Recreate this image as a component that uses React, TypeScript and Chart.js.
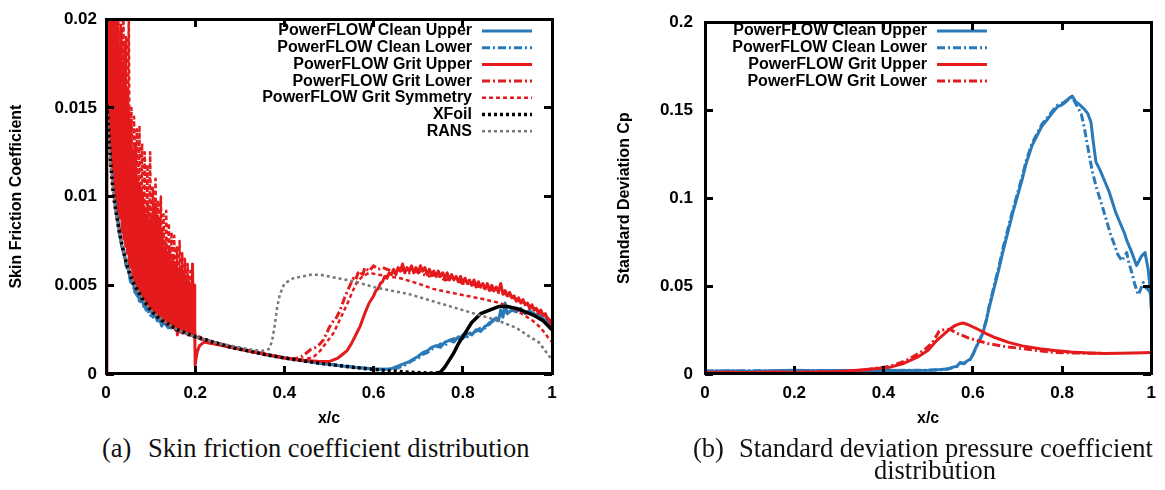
import React, { useEffect, useRef, useState } from 'react';
import { Chart, registerables } from 'chart.js';

Chart.register(...registerables);
Chart.defaults.font.family = '"Liberation Sans", Arial, Helvetica, sans-serif';
Chart.defaults.color = '#000';

type Pt = [number, number];

// ---------- tick labels ----------
const xTickLabels = ['0', '0.2', '0.4', '0.6', '0.8', '1'];
const cfTickLabels = ['0', '0.005', '0.01', '0.015', '0.02'];
const sdTickLabels = ['0', '0.05', '0.1', '0.15', '0.2'];

// ---------- (a) skin friction ----------
const cfLabels = [
  'PowerFLOW Clean Upper',
  'PowerFLOW Clean Lower',
  'PowerFLOW Grit Upper',
  'PowerFLOW Grit Lower',
  'PowerFLOW Grit Symmetry',
  'XFoil',
  'RANS',
];

const cfCleanUpper: Pt[] = [
  [0.001, 0.019], [0.004, 0.0185], [0.006, 0.0175], [0.008, 0.015], [0.01, 0.0165], [0.012, 0.013],
  [0.014, 0.014], [0.016, 0.011], [0.018, 0.0118], [0.02, 0.01], [0.025, 0.009], [0.03, 0.0082],
  [0.035, 0.0072], [0.04, 0.007], [0.045, 0.0062], [0.05, 0.006], [0.055, 0.0052], [0.06, 0.0053],
  [0.065, 0.0046], [0.07, 0.0048], [0.075, 0.0041], [0.08, 0.0044], [0.085, 0.0038], [0.09, 0.004],
  [0.095, 0.0035], [0.1, 0.0037], [0.105, 0.0032], [0.11, 0.0034], [0.115, 0.003], [0.12, 0.0031],
  [0.125, 0.0027], [0.13, 0.003], [0.14, 0.0026], [0.15, 0.0027], [0.16, 0.0024], [0.17, 0.0025],
  [0.18, 0.0023], [0.19, 0.0022], [0.2, 0.0021], [0.24, 0.0018], [0.28, 0.0015], [0.32, 0.0013],
  [0.36, 0.00108], [0.4, 0.0009], [0.44, 0.00075], [0.48, 0.0006], [0.52, 0.00048], [0.56, 0.00036],
  [0.6, 0.00028], [0.62, 0.00025], [0.64, 0.0003], [0.66, 0.0005], [0.68, 0.0007], [0.7, 0.001],
  [0.71, 0.0012], [0.72, 0.0013], [0.73, 0.0015], [0.74, 0.0016], [0.75, 0.0015], [0.76, 0.0018],
  [0.77, 0.0019], [0.78, 0.0018], [0.79, 0.0021], [0.8, 0.002], [0.81, 0.0023], [0.82, 0.0022],
  [0.83, 0.0025], [0.84, 0.0024], [0.85, 0.0027], [0.86, 0.0028], [0.87, 0.0031], [0.88, 0.003],
  [0.885, 0.0036], [0.89, 0.0032], [0.895, 0.004], [0.9, 0.0034], [0.91, 0.0036], [0.92, 0.0035],
  [0.93, 0.0037], [0.94, 0.0034], [0.95, 0.0036], [0.96, 0.0033], [0.97, 0.0034], [0.98, 0.0031],
  [0.99, 0.003], [1.0, 0.0026],
];

const cfCleanLower: Pt[] = [
  [0.001, 0.018], [0.004, 0.017], [0.007, 0.015], [0.01, 0.0135], [0.013, 0.012], [0.016, 0.0112],
  [0.02, 0.0098], [0.025, 0.0088], [0.03, 0.0079], [0.035, 0.0073], [0.04, 0.0067], [0.045, 0.0061],
  [0.05, 0.0058], [0.055, 0.0053], [0.06, 0.005], [0.065, 0.0047], [0.07, 0.0044], [0.075, 0.0043],
  [0.08, 0.004], [0.085, 0.004], [0.09, 0.0036], [0.095, 0.0037], [0.1, 0.0033], [0.11, 0.0033],
  [0.12, 0.0029], [0.13, 0.0029], [0.14, 0.0026], [0.15, 0.0026], [0.16, 0.0024], [0.18, 0.0023],
  [0.2, 0.0021], [0.24, 0.0018], [0.28, 0.00155], [0.32, 0.0013], [0.36, 0.0011], [0.4, 0.00092],
  [0.44, 0.00076], [0.48, 0.00062], [0.52, 0.0005], [0.56, 0.00038], [0.6, 0.0003], [0.63, 0.00026],
  [0.65, 0.0003], [0.67, 0.0005], [0.69, 0.0008], [0.7, 0.0009], [0.71, 0.0011], [0.72, 0.0012],
  [0.73, 0.0014], [0.74, 0.0015], [0.75, 0.0017], [0.76, 0.0016], [0.77, 0.0019], [0.78, 0.002],
  [0.79, 0.0019], [0.8, 0.0022], [0.81, 0.0021], [0.82, 0.0024], [0.83, 0.0024], [0.84, 0.0026],
  [0.85, 0.0026], [0.86, 0.0029], [0.87, 0.003], [0.88, 0.0033], [0.89, 0.0034], [0.9, 0.0036],
  [0.91, 0.0035], [0.92, 0.0037], [0.93, 0.0036], [0.94, 0.0035], [0.95, 0.0035], [0.96, 0.0034],
  [0.97, 0.0032], [0.98, 0.0031], [0.99, 0.0029], [1.0, 0.0027],
];

const cfGritUpper: Pt[] = [
  [0, 0], [0.002, 0.021], [0.004, 0.016], [0.006, 0.022], [0.008, 0.014], [0.01, 0.021], [0.012, 0.0125],
  [0.014, 0.0205], [0.016, 0.0115], [0.018, 0.02], [0.02, 0.0105], [0.022, 0.019], [0.024, 0.0098],
  [0.026, 0.0205], [0.028, 0.0092], [0.03, 0.018], [0.032, 0.0088], [0.034, 0.0195], [0.036, 0.008],
  [0.038, 0.017], [0.04, 0.0076], [0.042, 0.0185], [0.044, 0.0072], [0.046, 0.016], [0.048, 0.0068],
  [0.05, 0.015], [0.052, 0.0062], [0.054, 0.014], [0.056, 0.006], [0.058, 0.0125], [0.06, 0.0055],
  [0.062, 0.0118], [0.064, 0.0052], [0.066, 0.013], [0.068, 0.005], [0.07, 0.011], [0.072, 0.0047],
  [0.074, 0.0105], [0.076, 0.0046], [0.078, 0.0098], [0.08, 0.0044], [0.082, 0.0102], [0.084, 0.0042],
  [0.086, 0.0092], [0.088, 0.0041], [0.09, 0.0088], [0.092, 0.0039], [0.094, 0.0095], [0.096, 0.0038],
  [0.098, 0.0085], [0.1, 0.0037], [0.102, 0.009], [0.104, 0.0036], [0.106, 0.008], [0.108, 0.0035],
  [0.11, 0.0096], [0.112, 0.0034], [0.114, 0.0078], [0.116, 0.0033], [0.118, 0.0088], [0.12, 0.0032],
  [0.122, 0.0074], [0.124, 0.0031], [0.126, 0.008], [0.128, 0.003], [0.13, 0.007], [0.132, 0.0029],
  [0.134, 0.0074], [0.136, 0.0029], [0.138, 0.0066], [0.14, 0.0028], [0.142, 0.007], [0.144, 0.0027],
  [0.146, 0.0062], [0.148, 0.0027], [0.15, 0.0066], [0.152, 0.0026], [0.154, 0.0058], [0.156, 0.0025],
  [0.158, 0.0063], [0.16, 0.0022], [0.162, 0.0056], [0.164, 0.0025], [0.166, 0.006], [0.168, 0.0024],
  [0.17, 0.0054], [0.172, 0.0023], [0.174, 0.0058], [0.176, 0.0024], [0.178, 0.005], [0.18, 0.0023],
  [0.182, 0.0055], [0.184, 0.0022], [0.186, 0.0052], [0.188, 0.0025], [0.19, 0.0048], [0.192, 0.0022],
  [0.194, 0.0062], [0.196, 0.0023], [0.198, 0.005], [0.199, 0.0022], [0.2, 0.0005], [0.202, 0.0009],
  [0.205, 0.0013], [0.21, 0.0016], [0.215, 0.0017], [0.22, 0.0018], [0.23, 0.00175], [0.24, 0.0017],
  [0.26, 0.0016], [0.28, 0.0015], [0.32, 0.0013], [0.36, 0.0011], [0.4, 0.0009], [0.44, 0.00078],
  [0.48, 0.0007], [0.5, 0.0007], [0.51, 0.0008], [0.52, 0.0009], [0.53, 0.0011], [0.54, 0.0013],
  [0.55, 0.0017], [0.56, 0.0022], [0.57, 0.0027], [0.58, 0.0034], [0.59, 0.004], [0.6, 0.0044],
  [0.605, 0.0047], [0.61, 0.0048], [0.615, 0.0051], [0.62, 0.0052], [0.625, 0.0055], [0.63, 0.0054],
  [0.635, 0.0057], [0.64, 0.0056], [0.645, 0.0059], [0.65, 0.0056], [0.655, 0.006], [0.66, 0.0058],
  [0.665, 0.0062], [0.67, 0.0057], [0.675, 0.006], [0.68, 0.0058], [0.685, 0.0061], [0.69, 0.0057],
  [0.695, 0.006], [0.7, 0.0057], [0.705, 0.0061], [0.71, 0.0058], [0.715, 0.006], [0.72, 0.0056],
  [0.725, 0.0059], [0.73, 0.0056], [0.735, 0.0058], [0.74, 0.0055], [0.745, 0.0058], [0.75, 0.0055],
  [0.755, 0.0057], [0.76, 0.0054], [0.765, 0.0057], [0.77, 0.0053], [0.775, 0.0056], [0.78, 0.0053],
  [0.785, 0.0055], [0.79, 0.0052], [0.795, 0.0055], [0.8, 0.0051], [0.805, 0.0054], [0.81, 0.0051],
  [0.815, 0.0053], [0.82, 0.005], [0.825, 0.0053], [0.83, 0.0049], [0.835, 0.0052], [0.84, 0.0049],
  [0.845, 0.0051], [0.85, 0.0048], [0.855, 0.0051], [0.86, 0.0047], [0.865, 0.005], [0.87, 0.0047],
  [0.875, 0.0049], [0.88, 0.0046], [0.885, 0.0051], [0.89, 0.0045], [0.895, 0.0047], [0.9, 0.0044],
  [0.905, 0.0046], [0.91, 0.0043], [0.915, 0.0044], [0.92, 0.0041], [0.925, 0.0043], [0.93, 0.004],
  [0.935, 0.0042], [0.94, 0.0039], [0.945, 0.004], [0.95, 0.0037], [0.955, 0.0039], [0.96, 0.0036],
  [0.965, 0.0037], [0.97, 0.0034], [0.975, 0.0036], [0.98, 0.0033], [0.985, 0.0034], [0.99, 0.0031],
  [0.995, 0.003], [1.0, 0.0026],
];

const cfGritLower: Pt[] = [
  [0, 0], [0.003, 0.021], [0.007, 0.013], [0.011, 0.0215], [0.015, 0.0115], [0.019, 0.02], [0.023, 0.01],
  [0.027, 0.0195], [0.031, 0.009], [0.035, 0.0175], [0.039, 0.008], [0.043, 0.0165], [0.047, 0.0072],
  [0.051, 0.0145], [0.055, 0.0062], [0.059, 0.0128], [0.063, 0.0056], [0.067, 0.0115], [0.071, 0.005],
  [0.075, 0.0108], [0.079, 0.0046], [0.083, 0.0097], [0.087, 0.0043], [0.091, 0.0092], [0.095, 0.004],
  [0.099, 0.0088], [0.103, 0.0037], [0.107, 0.0083], [0.111, 0.0035], [0.115, 0.0081], [0.119, 0.0033],
  [0.123, 0.0077], [0.127, 0.0031], [0.131, 0.0071], [0.135, 0.003], [0.139, 0.0068], [0.143, 0.0028],
  [0.147, 0.0064], [0.151, 0.0027], [0.155, 0.0061], [0.159, 0.0024], [0.163, 0.0058], [0.167, 0.0025],
  [0.171, 0.0056], [0.175, 0.0024], [0.179, 0.0053], [0.183, 0.0023], [0.187, 0.005], [0.191, 0.0022],
  [0.195, 0.0048], [0.199, 0.0022], [0.21, 0.002], [0.24, 0.0018], [0.28, 0.00155], [0.32, 0.0013],
  [0.36, 0.0011], [0.4, 0.0009], [0.42, 0.00085], [0.43, 0.0009], [0.44, 0.001], [0.45, 0.0012],
  [0.46, 0.0014], [0.47, 0.0015], [0.48, 0.0017], [0.487, 0.0019], [0.495, 0.0023], [0.5, 0.0026],
  [0.51, 0.003], [0.515, 0.0031], [0.525, 0.0036], [0.535, 0.0043], [0.547, 0.005], [0.555, 0.0054],
  [0.56, 0.0053], [0.565, 0.0057], [0.57, 0.0058], [0.575, 0.0055], [0.58, 0.006], [0.59, 0.0058],
  [0.6, 0.0061], [0.61, 0.0059], [0.62, 0.006], [0.64, 0.0058], [0.66, 0.0059], [0.68, 0.0057],
  [0.7, 0.0058], [0.72, 0.0055], [0.74, 0.0056], [0.76, 0.0053], [0.78, 0.0054], [0.8, 0.0051],
  [0.82, 0.0051], [0.84, 0.0049], [0.86, 0.0048], [0.88, 0.0046], [0.9, 0.0045], [0.92, 0.0042],
  [0.94, 0.004], [0.96, 0.0037], [0.98, 0.0034], [1.0, 0.0029],
];

const cfGritSym: Pt[] = [
  [0, 0], [0.003, 0.022], [0.006, 0.017], [0.009, 0.023], [0.012, 0.016], [0.015, 0.022], [0.018, 0.015],
  [0.021, 0.021], [0.024, 0.013], [0.027, 0.022], [0.03, 0.012], [0.033, 0.02], [0.036, 0.011],
  [0.039, 0.021], [0.042, 0.01], [0.045, 0.019], [0.048, 0.009], [0.051, 0.0205], [0.054, 0.0085],
  [0.057, 0.015], [0.06, 0.0075], [0.063, 0.0145], [0.066, 0.007], [0.069, 0.0138], [0.072, 0.0065],
  [0.075, 0.014], [0.078, 0.006], [0.081, 0.013], [0.084, 0.0058], [0.087, 0.0125], [0.09, 0.0055],
  [0.093, 0.0118], [0.096, 0.0052], [0.099, 0.0125], [0.102, 0.005], [0.105, 0.0105], [0.108, 0.0048],
  [0.111, 0.011], [0.114, 0.0046], [0.117, 0.0098], [0.12, 0.0044], [0.123, 0.01], [0.126, 0.0042],
  [0.129, 0.009], [0.132, 0.004], [0.135, 0.0092], [0.138, 0.0038], [0.141, 0.0085], [0.144, 0.0037],
  [0.147, 0.008], [0.15, 0.0035], [0.153, 0.0078], [0.156, 0.0034], [0.159, 0.0072], [0.162, 0.0033],
  [0.165, 0.0075], [0.168, 0.0032], [0.171, 0.0068], [0.174, 0.0031], [0.177, 0.0065], [0.18, 0.003],
  [0.183, 0.0062], [0.186, 0.0029], [0.189, 0.0058], [0.192, 0.0028], [0.195, 0.005], [0.198, 0.0025],
  [0.2, 0.0022], [0.24, 0.0018], [0.28, 0.0015], [0.32, 0.0013], [0.36, 0.0011], [0.4, 0.0009],
  [0.44, 0.0008], [0.465, 0.00095], [0.48, 0.0013], [0.495, 0.0018], [0.51, 0.0023], [0.525, 0.0031],
  [0.54, 0.0039], [0.552, 0.0046], [0.563, 0.0052], [0.575, 0.0055], [0.59, 0.0057], [0.61, 0.0056],
  [0.635, 0.0055], [0.66, 0.0054], [0.7, 0.0051], [0.733, 0.0048], [0.77, 0.0046], [0.81, 0.0044],
  [0.85, 0.0042], [0.883, 0.004], [0.92, 0.0036], [0.957, 0.003], [0.975, 0.0026], [0.99, 0.0021],
  [1.0, 0.0018],
];

const cfXfoil: Pt[] = [
  [0.002, 0.0152], [0.005, 0.014], [0.01, 0.012], [0.015, 0.0105], [0.02, 0.0095], [0.03, 0.008],
  [0.04, 0.0068], [0.05, 0.0059], [0.06, 0.0052], [0.08, 0.0043], [0.1, 0.0036], [0.12, 0.0031],
  [0.14, 0.0028], [0.16, 0.0025], [0.18, 0.0023], [0.2, 0.0021], [0.24, 0.0018], [0.28, 0.0015],
  [0.32, 0.0013], [0.36, 0.00108], [0.4, 0.0009], [0.44, 0.00075], [0.48, 0.0006], [0.52, 0.00048],
  [0.56, 0.00036], [0.6, 0.00026], [0.64, 0.00017], [0.68, 0.0001], [0.72, 0.00006], [0.74, 0.00006],
  [0.75, 0.0001], [0.76, 0.0004], [0.77, 0.0008], [0.78, 0.0012], [0.79, 0.0017], [0.8, 0.0021],
  [0.81, 0.0025], [0.82, 0.0029], [0.84, 0.0034], [0.86, 0.0036], [0.88, 0.0038], [0.9, 0.0038],
  [0.92, 0.0037], [0.94, 0.0035], [0.96, 0.0033], [0.98, 0.003], [1.0, 0.0025],
];

const cfRans: Pt[] = [
  [0.002, 0.015], [0.005, 0.0138], [0.01, 0.0119], [0.02, 0.0094], [0.03, 0.0079], [0.04, 0.0068],
  [0.06, 0.0052], [0.08, 0.0043], [0.1, 0.0036], [0.12, 0.0032], [0.14, 0.0028], [0.16, 0.0025],
  [0.18, 0.0023], [0.2, 0.0021], [0.24, 0.0018], [0.28, 0.0016], [0.32, 0.0014], [0.35, 0.0013],
  [0.365, 0.0014], [0.372, 0.0018], [0.378, 0.0027], [0.384, 0.0038], [0.39, 0.0045], [0.4, 0.0051],
  [0.42, 0.0054], [0.44, 0.0055], [0.46, 0.0056], [0.48, 0.0056], [0.52, 0.0054], [0.56, 0.0052],
  [0.6, 0.0049], [0.64, 0.0047], [0.68, 0.0045], [0.72, 0.0042], [0.76, 0.0039], [0.8, 0.0036],
  [0.84, 0.0033], [0.88, 0.003], [0.92, 0.0026], [0.95, 0.0021], [0.97, 0.0018], [0.985, 0.0013],
  [1.0, 0.0008],
];

// ---------- (b) standard deviation Cp ----------
const sdLabels = [
  'PowerFLOW Clean Upper',
  'PowerFLOW Clean Lower',
  'PowerFLOW Grit Upper',
  'PowerFLOW Grit Lower',
];

const sdCleanUpper: Pt[] = [
  [0, 0.0015], [0.05, 0.0018], [0.1, 0.0016], [0.15, 0.0019], [0.2, 0.0021], [0.25, 0.0018],
  [0.3, 0.002], [0.35, 0.0019], [0.4, 0.0021], [0.45, 0.002], [0.5, 0.0022], [0.53, 0.0025],
  [0.545, 0.003], [0.556, 0.0039], [0.565, 0.0045], [0.572, 0.0065], [0.58, 0.006], [0.588, 0.0075],
  [0.595, 0.0085], [0.6, 0.011], [0.607, 0.015], [0.615, 0.019], [0.622, 0.0228], [0.63, 0.03],
  [0.636, 0.037], [0.645, 0.046], [0.658, 0.059], [0.668, 0.07], [0.68, 0.082], [0.69, 0.092],
  [0.7, 0.101], [0.71, 0.11], [0.72, 0.12], [0.733, 0.13], [0.745, 0.136], [0.755, 0.141],
  [0.768, 0.145], [0.78, 0.149], [0.79, 0.152], [0.8, 0.153], [0.81, 0.155], [0.817, 0.157],
  [0.823, 0.158], [0.83, 0.155], [0.84, 0.153], [0.85, 0.1505], [0.858, 0.148], [0.865, 0.143],
  [0.87, 0.132], [0.876, 0.1206], [0.885, 0.116], [0.895, 0.11], [0.905, 0.104], [0.912, 0.0985],
  [0.92, 0.092], [0.93, 0.086], [0.94, 0.08], [0.945, 0.076], [0.955, 0.07], [0.967, 0.0617],
  [0.972, 0.064], [0.978, 0.067], [0.986, 0.069], [0.993, 0.0595], [0.997, 0.05], [1.0, 0.037],
];

const sdCleanLower: Pt[] = [
  [0, 0.0017], [0.05, 0.0016], [0.1, 0.0019], [0.15, 0.0017], [0.2, 0.002], [0.25, 0.0019],
  [0.3, 0.0018], [0.35, 0.0021], [0.4, 0.0019], [0.45, 0.0021], [0.5, 0.0021], [0.53, 0.0024],
  [0.545, 0.0028], [0.556, 0.0037], [0.565, 0.0043], [0.572, 0.0062], [0.58, 0.0058], [0.588, 0.0073],
  [0.595, 0.0083], [0.6, 0.0108], [0.607, 0.0148], [0.615, 0.0192], [0.622, 0.0232], [0.63, 0.0305],
  [0.636, 0.0378], [0.645, 0.0472], [0.658, 0.0605], [0.668, 0.0718], [0.68, 0.0838], [0.69, 0.0935],
  [0.7, 0.1025], [0.71, 0.1115], [0.72, 0.1215], [0.733, 0.1312], [0.745, 0.1372], [0.755, 0.142],
  [0.768, 0.146], [0.78, 0.15], [0.79, 0.1528], [0.8, 0.1538], [0.81, 0.1555], [0.817, 0.1568],
  [0.823, 0.1575], [0.83, 0.154], [0.843, 0.148], [0.85, 0.14], [0.857, 0.13], [0.868, 0.115],
  [0.877, 0.106], [0.887, 0.098], [0.9, 0.087], [0.908, 0.08], [0.916, 0.0745], [0.925, 0.068],
  [0.934, 0.0644], [0.94, 0.067], [0.945, 0.069], [0.95, 0.063], [0.956, 0.058], [0.963, 0.051],
  [0.971, 0.045], [0.976, 0.048], [0.982, 0.052], [0.988, 0.049], [0.993, 0.048], [1.0, 0.045],
];

const sdGritUpper: Pt[] = [
  [0, 0.0008], [0.05, 0.001], [0.1, 0.0009], [0.15, 0.0011], [0.2, 0.001], [0.25, 0.0012],
  [0.3, 0.0014], [0.342, 0.0022], [0.38, 0.003], [0.415, 0.0039], [0.445, 0.006], [0.475, 0.0094],
  [0.5, 0.0135], [0.519, 0.019], [0.535, 0.0225], [0.548, 0.0255], [0.56, 0.0275], [0.57, 0.0285],
  [0.578, 0.029], [0.59, 0.028], [0.607, 0.026], [0.63, 0.023], [0.651, 0.0206], [0.68, 0.018],
  [0.711, 0.016], [0.75, 0.0143], [0.784, 0.0133], [0.82, 0.0125], [0.86, 0.012], [0.894, 0.0117],
  [0.93, 0.0118], [0.96, 0.012], [1.0, 0.0122],
];

const sdGritLower: Pt[] = [
  [0, 0.0006], [0.1, 0.0008], [0.2, 0.0009], [0.3, 0.0013], [0.35, 0.002], [0.415, 0.0044],
  [0.45, 0.0075], [0.49, 0.0133], [0.51, 0.018], [0.525, 0.0244], [0.541, 0.0256], [0.552, 0.025],
  [0.563, 0.0233], [0.59, 0.0205], [0.61, 0.019], [0.636, 0.0172], [0.67, 0.0157], [0.711, 0.0144],
  [0.75, 0.0132], [0.784, 0.0122], [0.82, 0.012], [0.86, 0.0118], [0.9, 0.0117],
];

// ---------- styles ----------
const BLUE = '#2a7ab9';
const RED = '#e41a1c';
const DASHDOT = [8, 3, 2, 3];

const toXY = (pts: Pt[]) => pts.map(([x, y]) => ({ x, y }));

function line(label: string, pts: Pt[], color: string, width: number, dash: number[], order: number, extra: any = {}) {
  return {
    label,
    data: toXY(pts),
    borderColor: color,
    backgroundColor: color,
    borderWidth: width,
    borderDash: dash,
    borderJoinStyle: 'round',
    pointRadius: 0,
    fill: false,
    tension: 0,
    order,
    ...extra,
  };
}

// key (text to the left of a line sample), drawn on the chart canvas
const keyPlugin = {
  id: 'seriesKey',
  afterDraw(chart: any, _args: any, opts: any) {
    const ctx = chart.ctx;
    ctx.save();
    ctx.font = 'bold 16px "Liberation Sans", Arial, sans-serif';
    ctx.textAlign = 'right';
    ctx.textBaseline = 'middle';
    chart.data.datasets.forEach((ds: any, i: number) => {
      const y = opts.y + i * opts.step;
      ctx.fillStyle = '#000';
      ctx.fillText(ds.label, opts.textRight, y);
      ctx.beginPath();
      ctx.setLineDash(ds.borderDash || []);
      ctx.strokeStyle = ds.borderColor;
      ctx.lineWidth = ds.borderWidth;
      ctx.moveTo(opts.lineStart, y);
      ctx.lineTo(opts.lineStart + opts.lineLen, y);
      ctx.stroke();
    });
    ctx.restore();
  },
};

function makeConfig(p: {
  datasets: any[]; yMax: number; yStep: number; yLabels: string[]; yTitle: string;
  padLeft: number; padRight: number; yAxisW: number; yTickPad: number; key: any;
}) {
  const bold = { size: 16, weight: 'bold' as const };
  const tickFont = { size: 17, weight: 'bold' as const };
  return {
    type: 'line' as const,
    data: { datasets: p.datasets },
    plugins: [keyPlugin],
    options: {
      animation: false,
      responsive: false,
      maintainAspectRatio: false,
      layout: { padding: { left: p.padLeft, right: p.padRight, top: 14, bottom: 0 } },
      plugins: {
        legend: { display: false },
        tooltip: { enabled: false },
        seriesKey: p.key,
      },
      scales: {
        x: {
          type: 'linear',
          min: 0,
          max: 1,
          afterFit: (s: any) => { s.height = 56; },
          grid: { display: false, drawTicks: false },
          border: { display: false },
          ticks: {
            stepSize: 0.2,
            padding: 9,
            maxRotation: 0,
            autoSkip: false,
            color: '#000',
            font: tickFont,
            callback: (v: number) => xTickLabels[Math.round(v / 0.2)],
          },
          title: { display: true, text: 'x/c', color: '#000', font: bold, padding: { top: 0, bottom: 2 } },
        },
        y: {
          type: 'linear',
          min: 0,
          max: p.yMax,
          afterFit: (s: any) => { s.width = p.yAxisW; },
          grid: { display: false, drawTicks: false },
          border: { display: false },
          ticks: {
            stepSize: p.yStep,
            padding: p.yTickPad,
            color: '#000',
            font: tickFont,
            callback: (v: number) => p.yLabels[Math.round(v / p.yStep)],
          },
          title: { display: true, text: p.yTitle, color: '#000', font: bold, padding: { top: 0, bottom: 0 } },
        },
      },
    },
  };
}

type Geom = { l: number; t: number; r: number; b: number; xs: number[]; ys: number[] };

function readGeom(chart: any): Geom | null {
  const a = chart.chartArea;
  const sx = chart.scales.x;
  const sy = chart.scales.y;
  if (!a || !sx || !sy) return null;
  const l = Number(a.left), t = Number(a.top), r = Number(a.right), b = Number(a.bottom);
  if (![l, t, r, b].every((v) => isFinite(v))) return null;
  const xs = sx.ticks.map((tk: any) => Number(sx.getPixelForValue(tk.value))).filter((v: number) => isFinite(v));
  const ys = sy.ticks.map((tk: any) => Number(sy.getPixelForValue(tk.value))).filter((v: number) => isFinite(v));
  return { l, t, r, b, xs, ys };
}

function Panel({ config, left }: { config: () => any; left: number }) {
  const ref = useRef<HTMLCanvasElement>(null);
  const [geom, setGeom] = useState<Geom | null>(null);
  useEffect(() => {
    const chart = new Chart(ref.current as HTMLCanvasElement, config());
    setGeom(readGeom(chart));
    return () => chart.destroy();
  }, []);
  const black = '#000';
  const W = 3;
  const TL = 8;
  return (
    <>
      <canvas
        ref={ref}
        width={580}
        height={430}
        style={{ position: 'absolute', left, top: 0, width: 580, height: 430 }}
      />
      {geom && (
        <div style={{ position: 'absolute', left, top: 0, width: 580, height: 430, pointerEvents: 'none' }}>
          <div
            style={{
              position: 'absolute',
              left: geom.l - W / 2,
              top: geom.t - W / 2,
              width: geom.r - geom.l + W,
              height: geom.b - geom.t + W,
              border: `${W}px solid ${black}`,
              boxSizing: 'border-box',
            }}
          />
          {geom.xs.map((px, i) => (
            <React.Fragment key={'x' + i}>
              <div style={{ position: 'absolute', left: px - W / 2, top: geom.t, width: W, height: TL, background: black }} />
              <div style={{ position: 'absolute', left: px - W / 2, top: geom.b - TL, width: W, height: TL, background: black }} />
            </React.Fragment>
          ))}
          {geom.ys.map((py, i) => (
            <React.Fragment key={'y' + i}>
              <div style={{ position: 'absolute', left: geom.l, top: py - W / 2, width: TL, height: W, background: black }} />
              <div style={{ position: 'absolute', left: geom.r - TL, top: py - W / 2, width: TL, height: W, background: black }} />
            </React.Fragment>
          ))}
        </div>
      )}
    </>
  );
}

const cfKey = { textRight: 472, lineStart: 482, lineLen: 50, y: 31, step: 16.7 };
const sdKey = { textRight: 342, lineStart: 352, lineLen: 50, y: 31, step: 16.7 };

const cfConfig = () => {
  const n = 7;
  const ds = [
    line(cfLabels[0], cfCleanUpper, BLUE, 3, [], n - 0),
    line(cfLabels[1], cfCleanLower, BLUE, 3, DASHDOT, n - 1),
    line(cfLabels[2], cfGritUpper, RED, 3, [], n - 2),
    line(cfLabels[3], cfGritLower, RED, 3, DASHDOT, n - 3),
    line(cfLabels[4], cfGritSym, RED, 2.5, [4, 3], n - 4),
    line(cfLabels[5], cfXfoil, '#000', 3.5, [3, 3], n - 5, {
      segment: { borderDash: (c: any) => (c.p0.parsed.x >= 0.74 ? [] : undefined) },
    }),
    line(cfLabels[6], cfRans, '#777777', 2.5, [3, 3], n - 6),
  ];
  return makeConfig({
    datasets: ds,
    yMax: 0.02,
    yStep: 0.005,
    yLabels: cfTickLabels,
    yTitle: 'Skin Friction Coefficient',
    padLeft: 7,
    padRight: 28,
    yAxisW: 99,
    yTickPad: 9,
    key: cfKey,
  });
};

const sdConfig = () => {
  const n = 4;
  const ds = [
    line(sdLabels[0], sdCleanUpper, BLUE, 3, [], n - 0),
    line(sdLabels[1], sdCleanLower, BLUE, 3, DASHDOT, n - 1),
    line(sdLabels[2], sdGritUpper, RED, 3, [], n - 2),
    line(sdLabels[3], sdGritLower, RED, 3, DASHDOT, n - 3),
  ];
  return makeConfig({
    datasets: ds,
    yMax: 0.2,
    yStep: 0.05,
    yLabels: sdTickLabels,
    yTitle: 'Standard Deviation Cp',
    padLeft: 30,
    padRight: 7,
    yAxisW: 90,
    yTickPad: 12,
    key: sdKey,
  });
};

const capStyle: React.CSSProperties = {
  position: 'absolute',
  fontFamily: '"Liberation Serif", "Times New Roman", serif',
  fontSize: 26.5,
  lineHeight: '26px',
  whiteSpace: 'pre',
  color: '#111',
};

export default function App() {
  return (
    <div style={{ position: 'absolute', left: 0, top: 0, width: 1165, height: 490, background: '#fff', overflow: 'hidden' }}>
      <Panel config={cfConfig} left={0} />
      <Panel config={sdConfig} left={585} />
      <div style={{ ...capStyle, left: 102, top: 435 }}>
        <span style={{ display: 'inline-block', width: 46 }}>(a)</span>Skin friction coefficient distribution
      </div>
      <div style={{ ...capStyle, left: 693, top: 435 }}>
        <span style={{ display: 'inline-block', width: 46 }}>(b)</span>Standard deviation pressure coefficient
      </div>
      <div style={{ ...capStyle, left: 835, top: 457, width: 200, textAlign: 'center' }}>distribution</div>
    </div>
  );
}
